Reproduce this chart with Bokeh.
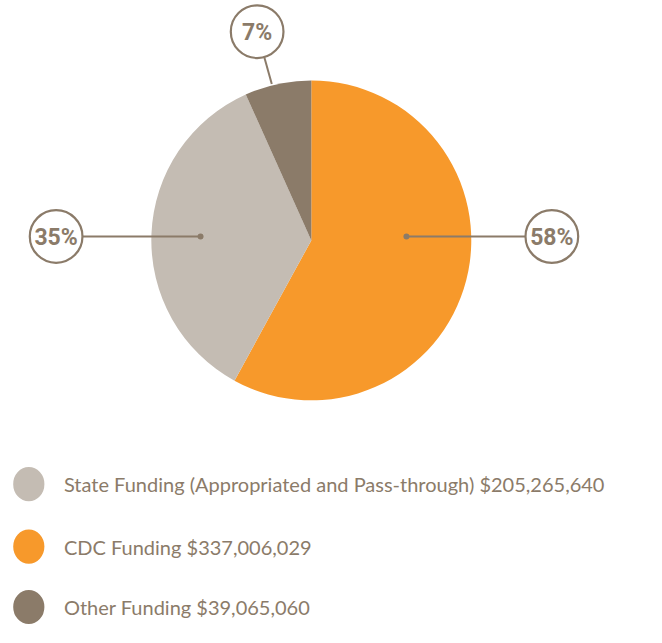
import math
from bokeh.plotting import figure
from bokeh.models import Range1d
from bokeh.core.properties import value
from bokeh.embed import file_html
from bokeh.resources import INLINE

# ---- data ----
legend_names = ["State Funding (Appropriated and Pass-through)", "CDC Funding", "Other Funding"]
legend_values = [205265640, 337006029, 39065060]
colors = ["#C4BCB3", "#F7992B", "#8B7B69"]
pie_order = [1, 0, 2]  # clockwise from 12 o'clock: CDC, State, Other

TEXT = "#8B7B69"
W, H = 646, 627
SX, SY = W / 662, H / 643
S = (SX + SY) / 2

def X(px):
    return px * SX

def Y(py):  # reference pixel y -> data y
    return H - py * SY

p = figure(width=W, height=H, output_backend="svg", toolbar_location=None,
           x_range=Range1d(0, W), y_range=Range1d(0, H),
           min_border=0, outline_line_color=None)
p.axis.visible = False
p.grid.visible = False
p.background_fill_color = "white"
p.border_fill_color = "white"

cx, cy, R = X(318.5), Y(246), 164 * S
total = sum(legend_values)

starts, ends, cols, mids = [], [], [], {}
cum = 0.0
for i in pie_order:
    frac = legend_values[i] / total
    a0 = math.pi / 2 - (cum + frac) * 2 * math.pi
    a1 = math.pi / 2 - cum * 2 * math.pi
    starts.append(a0); ends.append(a1); cols.append(colors[i])
    mids[i] = (a0 + a1) / 2
    cum += frac

p.wedge(x=[cx] * 3, y=[cy] * 3, radius=R, start_angle=starts, end_angle=ends,
        fill_color=cols, line_color=None)

pct = [f"{round(v / total * 100)}%" for v in legend_values]

# label circle positions (layout)
lab_pos = {0: (X(57), Y(242)), 1: (X(565), Y(242)), 2: (X(263), Y(32))}
lab_r = 27 * S

# leader lines: State and CDC horizontal
p.segment(x0=[lab_pos[0][0] + lab_r, X(416)], y0=[Y(242), Y(242)],
          x1=[X(205), lab_pos[1][0] - lab_r], y1=[Y(242), Y(242)],
          line_color=TEXT, line_width=2)
p.circle(x=[X(205), X(416)], y=[Y(242), Y(242)], radius=3, fill_color=TEXT, line_color=None)
# Other: toward slice edge
m = mids[2]
ex, ey = cx + R * math.cos(m) - 6, cy + R * math.sin(m)
lx, ly = lab_pos[2]
dx, dy = ex - lx, ey - ly
d = math.hypot(dx, dy)
p.segment(x0=[lx + dx / d * lab_r], y0=[ly + dy / d * lab_r], x1=[ex], y1=[ey],
          line_color=TEXT, line_width=2)

p.circle(x=[lab_pos[i][0] for i in range(3)], y=[lab_pos[i][1] for i in range(3)],
         radius=lab_r, fill_color="white", line_color=TEXT, line_width=2.2)
p.text(x=[lab_pos[i][0] for i in range(3)], y=[lab_pos[i][1] - 1 for i in range(3)], text=pct,
       text_font=value("Roboto"), text_font_style="bold",
       text_font_size="23px", text_color=TEXT, text_align="center", text_baseline="middle")

# legend
rows_y = [Y(496), Y(560), Y(622)]
p.ellipse(x=[X(29)] * 3, y=rows_y, width=32 * S, height=35 * S, fill_color=colors, line_color=None)
labels = [f"{n} ${v:,}" for n, v in zip(legend_names, legend_values)]
p.text(x=[X(65)] * 3, y=rows_y, text=labels, text_font=value("Lato"),
       text_font_size="20px", text_color=TEXT, text_align="left", text_baseline="middle")

open("out.html", "w").write(file_html(p, INLINE))
